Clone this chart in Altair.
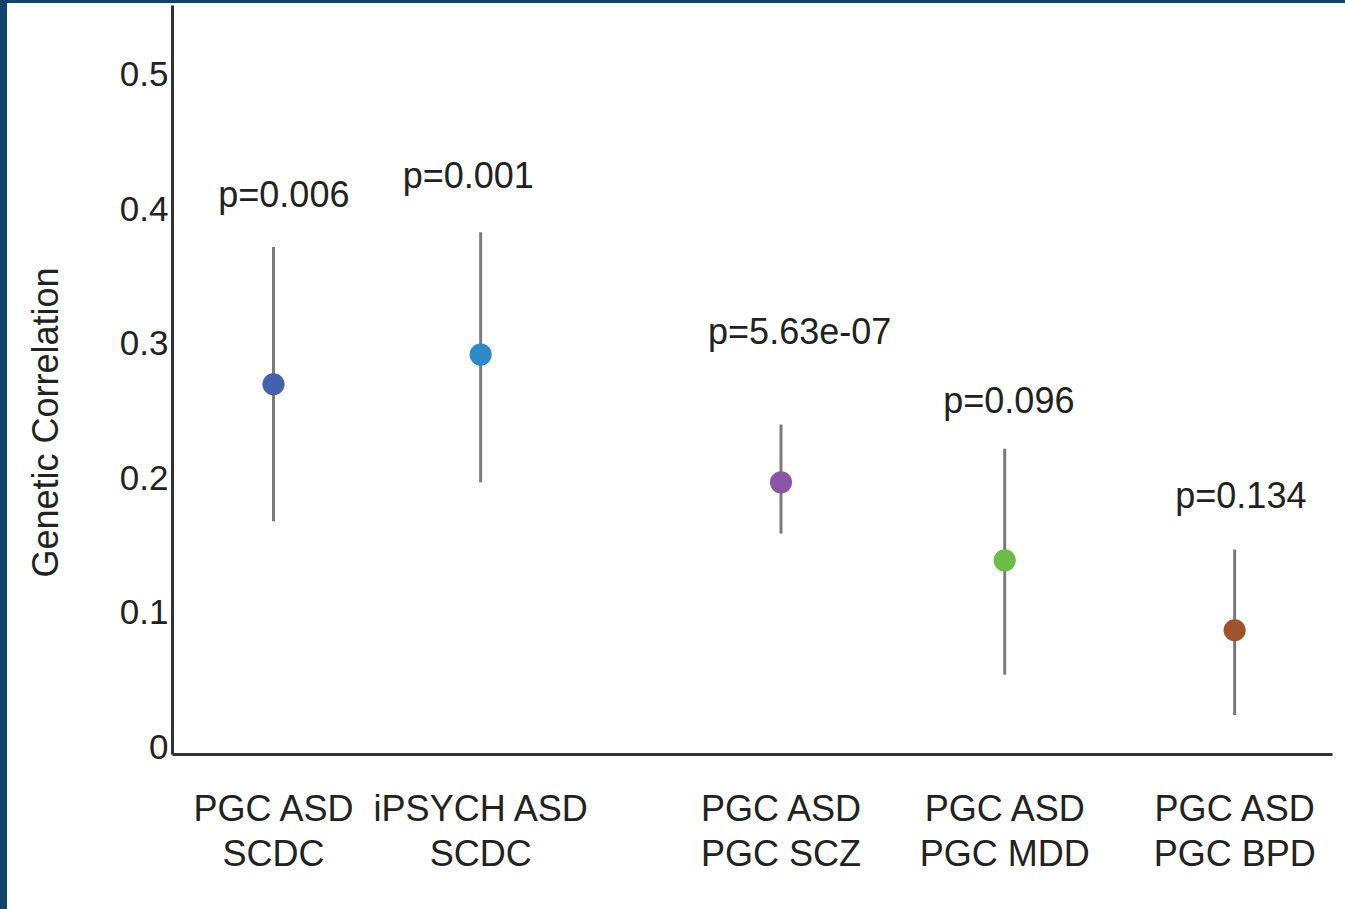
import altair as alt
import pandas as pd

# Data
categories = ["PGC ASD\nSCDC", "iPSYCH ASD\nSCDC", "PGC ASD\nPGC SCZ", "PGC ASD\nPGC MDD", "PGC ASD\nPGC BPD"]
slot = [0.49, 1.49, 2.94, 4.02, 5.13]          # horizontal position of each comparison (unequal gaps)
rg = [0.270, 0.292, 0.197, 0.139, 0.087]         # genetic correlation
ci_low = [0.168, 0.197, 0.159, 0.054, 0.024]
ci_high = [0.372, 0.383, 0.240, 0.222, 0.147]
p_text = ["p=0.006", "p=0.001", "p=5.63e-07", "p=0.096", "p=0.134"]
p_slot = [0.54, 1.43, 3.03, 4.04, 5.16]
p_y = [0.410, 0.424, 0.308, 0.257, 0.186]
colors = ["#4560ac", "#2f89c9", "#8b55a8", "#6cbd45", "#a0532b"]
y_ticks = [0, 0.1, 0.2, 0.3, 0.4, 0.5]

df = pd.DataFrame({
    "cat": categories, "slot": slot, "rg": rg, "lo": ci_low, "hi": ci_high,
    "p": p_text, "pslot": p_slot, "py": p_y,
})

FONT = "Liberation Sans"
W, H = 1160, 749

xscale = alt.Scale(domain=[0, 5.6], nice=False, zero=False)
yscale = alt.Scale(domain=[-0.005, 0.552], nice=False, zero=False)

base = alt.Chart(df)

bars = base.mark_rule(color="#7a7a7a", strokeWidth=3).encode(
    x=alt.X("slot:Q", scale=xscale, axis=alt.Axis(
        values=[], domain=True, domainColor="#333333", domainWidth=3,
        ticks=False, labels=False, grid=False, title=None)),
    y=alt.Y("lo:Q", scale=yscale, axis=alt.Axis(
        values=y_ticks, format=".1~f", domain=True, domainColor="#333333", domainWidth=3,
        ticks=False, grid=False, labelFont=FONT, labelFontSize=35, labelColor="#222222",
        labelPadding=4, title="Genetic Correlation", titleFont=FONT, titleFontSize=36,
        titleFontWeight="normal", titleColor="#222222", titleX=-126, titleY=417,
        titleAngle=270, titleAlign="center", titleBaseline="middle")),
    y2="hi:Q",
)

points = base.mark_circle(size=490, opacity=1).encode(
    x=alt.X("slot:Q", scale=xscale),
    y=alt.Y("rg:Q", scale=yscale),
    color=alt.Color("cat:N", scale=alt.Scale(domain=categories, range=colors), legend=None),
)

plabels = base.mark_text(font=FONT, fontSize=36, color="#222222", align="center",
                         baseline="middle").encode(
    x=alt.X("pslot:Q", scale=xscale),
    y=alt.Y("py:Q", scale=yscale),
    text="p:N",
)

xlabels = base.mark_text(font=FONT, fontSize=36, color="#222222", align="center",
                         baseline="middle", lineBreak="\n", lineHeight=45).encode(
    x=alt.X("slot:Q", scale=xscale),
    y=alt.value(805),
    text="cat:N",
)

border = alt.Chart(pd.DataFrame({"k": [0]})).mark_rect(color="#12436b", clip=False).encode(
    x=alt.value(-172), x2=alt.value(-165), y=alt.value(-5), y2=alt.value(904),
)
border_top = alt.Chart(pd.DataFrame({"k": [0]})).mark_rect(color="#12436b", clip=False).encode(
    x=alt.value(-172), x2=alt.value(1173), y=alt.value(-5), y2=alt.value(-2),
)

chart = alt.layer(bars, points, plabels, xlabels, border, border_top).properties(
    width=W, height=H,
    autosize=alt.AutoSizeParams(type="none"),
    padding={"left": 172, "top": 5, "right": 13, "bottom": 155},
    background="white",
).configure_view(stroke=None)

chart.save("out.html", embed_options={"renderer": "svg", "actions": False})
